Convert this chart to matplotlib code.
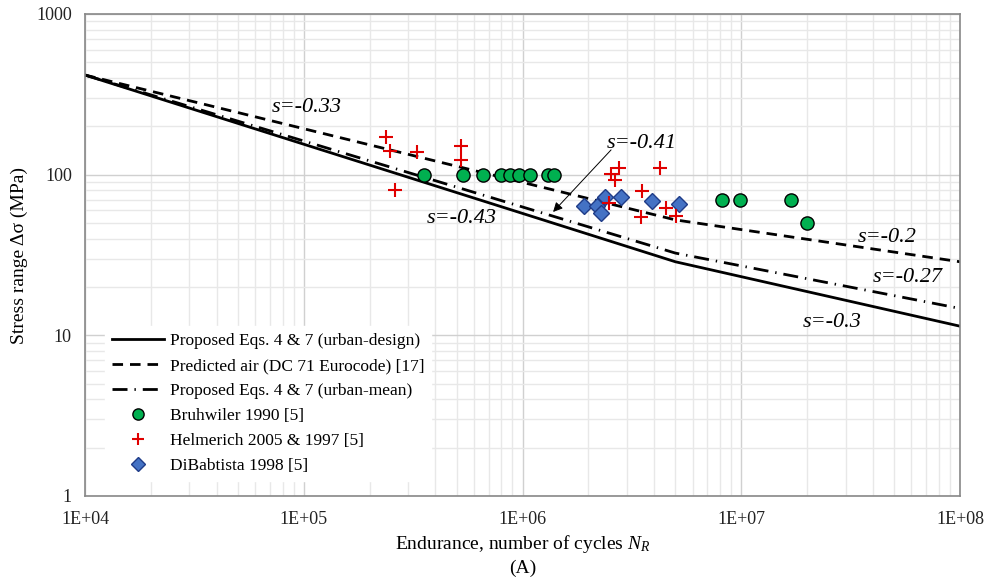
import numpy as np
import matplotlib
matplotlib.use("Agg")
import matplotlib.pyplot as plt
from matplotlib.ticker import FixedLocator, LogLocator, NullFormatter

plt.rcParams['font.family'] = ['Liberation Serif', 'DejaVu Serif']
plt.rcParams['mathtext.fontset'] = 'custom'
plt.rcParams['mathtext.it'] = 'Liberation Serif:italic'
plt.rcParams['mathtext.rm'] = 'Liberation Serif'

# S-N curves (breakpoints: 1E+04, knee at 5E+06, 1E+08)
curve_N = [1e4, 5e6, 1e8]
design_S = [417, 28.7, 11.4]
eurocode_S = [417, 52.3, 28.7]
mean_S = [417, 32.5, 14.7]

# test data
bruh_N = [3.55e5, 5.33e5, 6.58e5, 7.94e5, 8.73e5, 9.6e5, 1.08e6, 1.31e6, 1.40e6,
          8.15e6, 9.84e6, 1.68e7, 1.99e7]
bruh_S = [100, 100, 100, 100, 100, 100, 100, 100, 100, 69.5, 69.5, 69.5, 50]

helm_N = [2.38e5, 2.48e5, 2.61e5, 3.29e5, 5.22e5, 5.22e5, 2.54e6, 2.77e6, 2.65e6,
          2.49e6, 3.52e6, 3.49e6, 4.25e6, 4.53e6, 5.04e6]
helm_S = [171, 140, 80, 138, 151, 123, 101, 110, 93, 66.7, 79, 54.6, 110, 62, 55.3]

dib_N = [1.91e6, 2.20e6, 2.29e6, 2.39e6, 2.82e6, 3.91e6, 5.19e6]
dib_S = [63.8, 63.8, 57.7, 72.6, 72.6, 68.5, 65.6]

fig = plt.figure(figsize=(9.84, 5.87), dpi=100)
ax = fig.add_axes([85/984, 1-496/587, 875/984, 482/587])

ax.plot(curve_N, design_S, color='black', lw=2.0, ls='-', label='Proposed Eqs. 4 & 7 (urban-design)')
ax.plot(curve_N, eurocode_S, color='black', lw=2.0, ls=(0, (3.8, 2.5)), label='Predicted air (DC 71 Eurocode) [17]')
ax.plot(curve_N, mean_S, color='black', lw=2.0, ls=(0, (5.4, 2.5, 0.5, 2.5)), label='Proposed Eqs. 4 & 7 (urban-mean)')

ax.plot(bruh_N, bruh_S, ls='none', marker='o', ms=9.5, mfc='#00b050', mec='black', mew=1.0,
        label='Bruhwiler 1990 [5]', zorder=4)
ax.plot(helm_N, helm_S, ls='none', marker='+', ms=10, mec='#e00000', mew=1.5,
        label='Helmerich 2005 & 1997 [5]', zorder=5)
ax.plot(dib_N, dib_S, ls='none', marker='D', ms=8, mfc='#4472c4', mec='#1f3c88', mew=1.0,
        label='DiBabtista 1998 [5]', zorder=4)

ax.set_xscale('log')
ax.set_yscale('log')
ax.set_xlim(1e4, 1e8)
ax.set_ylim(1, 1000)

ax.xaxis.set_major_locator(FixedLocator([1e4, 1e5, 1e6, 1e7, 1e8]))
ax.set_xticklabels(['1E+04', '1E+05', '1E+06', '1E+07', '1E+08'])
ax.yaxis.set_major_locator(FixedLocator([1, 10, 100, 1000]))
ax.set_yticklabels(['1', '10', '100', '1000'])
ax.xaxis.set_minor_locator(LogLocator(base=10, subs=np.arange(2, 10)))
ax.yaxis.set_minor_locator(LogLocator(base=10, subs=np.arange(2, 10)))
ax.xaxis.set_minor_formatter(NullFormatter())
ax.yaxis.set_minor_formatter(NullFormatter())
ax.tick_params(which='both', length=0, labelsize=13, colors='#222222')
ax.tick_params(axis='x', pad=11)
ax.tick_params(axis='y', pad=9.5)

ax.grid(which='major', color='#d0d0d0', lw=1.0)
ax.grid(which='minor', color='#e8e8e8', lw=1.0)
ax.set_axisbelow(True)
for sp in ax.spines.values():
    sp.set_color('#888888')
    sp.set_linewidth(1.2)

ax.set_ylabel('Stress range Δσ (MPa)', fontsize=14)
ax.yaxis.set_label_coords(-0.065, 0.5)
ax.set_xlabel('Endurance, number of cycles $N_R$', fontsize=14)
ax.xaxis.set_label_coords(0.5, -0.0768)
fig.text(523/984, 1-568/587, '(A)', fontsize=14, ha='center', va='center')

tfont = dict(fontsize=16, style='italic', ha='center', va='center')
ax.text(1.03e5, 260, 's=-0.33', **tfont)
ax.text(5.28e5, 53.7, 's=-0.43', **tfont)
ax.text(4.63e7, 40.4, 's=-0.2', **tfont)
ax.text(5.78e7, 22.8, 's=-0.27', **tfont)
ax.text(2.6e7, 12.1, 's=-0.3', **tfont)
ax.text(3.52e6, 157, 's=-0.41', **tfont)
ax.annotate('', xy=(1.38e6, 58.6), xytext=(2.54e6, 142.6),
            arrowprops=dict(arrowstyle='-|>', color='black', lw=0.7, mutation_scale=14,
                            shrinkA=0, shrinkB=0))

leg = ax.legend(loc='lower left', bbox_to_anchor=(0.0134, 0.014), frameon=True, fontsize=12.5,
                handlelength=3.0, handletextpad=0.3, labelspacing=0.5, borderpad=0.4,
                markerscale=0.85)
leg.get_frame().set_edgecolor('white')
leg.get_frame().set_facecolor('white')
leg.get_frame().set_alpha(1.0)

fig.savefig('out.png', dpi=100)
